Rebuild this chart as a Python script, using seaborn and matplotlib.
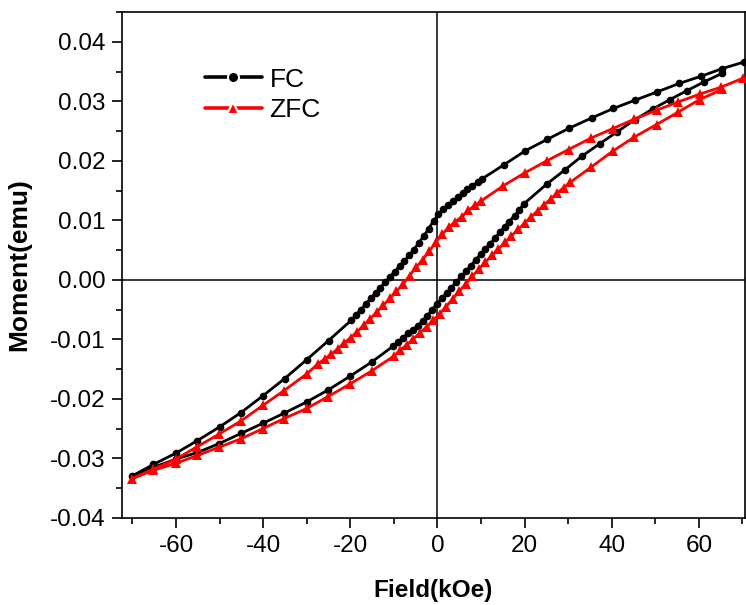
import matplotlib
matplotlib.use("Agg")
import matplotlib.pyplot as plt
import seaborn as sns
import pandas as pd
from matplotlib.ticker import MultipleLocator, FormatStrFormatter

# ---- data ----
fc_desc_field = [70.4, 65.4, 60.5, 55.5, 50.5, 45.4, 40.4, 35.4, 30.3, 25.2, 20.2, 15.2, 10.3,
                 9.2, 8.0, 6.9, 5.8, 4.7, 3.6, 2.5, 1.3, 0.2, -0.9, -2.0, -3.1, -4.3, -5.4, -6.5,
                 -7.6, -8.7, -9.8, -10.9, -12.0, -13.1, -14.2, -15.3, -16.4, -17.6, -18.7, -19.8,
                 -25.0, -30.0, -35.1, -40.1, -45.1, -50.0, -55.1, -60.0, -65.2, -70.2]
fc_desc_moment = [0.0366, 0.0355, 0.0342, 0.0330, 0.0316, 0.0302, 0.0288, 0.0272, 0.0255, 0.0236,
                  0.0217, 0.0193, 0.0170,
                  0.0164, 0.0158, 0.0152, 0.0146, 0.0139, 0.0133, 0.0126, 0.0119, 0.0110, 0.0099,
                  0.0086, 0.0074, 0.0062, 0.0051, 0.0041, 0.0032, 0.0023, 0.0014, 0.0005, -0.0004,
                  -0.0013, -0.0022, -0.0031, -0.0040, -0.0050, -0.0059, -0.0068,
                  -0.0102, -0.0134, -0.0166, -0.0195, -0.0223, -0.0247, -0.0270, -0.0291, -0.0310,
                  -0.0330]

fc_asc_field = [-65.2, -60.0, -55.1, -50.1, -45.1, -40.1, -35.2, -30.0, -25.1, -20.1, -15.1, -10.1,
                -9.0, -7.9, -6.8, -5.7, -4.5, -3.4, -2.3, -1.2, -0.1, 1.0, 2.1, 3.2, 4.3, 5.5, 6.6,
                7.7, 8.8, 9.9, 11.0, 12.1, 13.2, 14.3, 15.4, 16.5, 17.7, 18.8, 19.9,
                25.1, 29.3, 33.2, 37.3, 41.3, 45.3, 49.4, 53.4, 57.3, 61.3, 65.4]
fc_asc_moment = [-0.0315, -0.0301, -0.0290, -0.0275, -0.0258, -0.0241, -0.0224, -0.0205, -0.0185,
                 -0.0162, -0.0138, -0.0111,
                 -0.0104, -0.0097, -0.0090, -0.0084, -0.0077, -0.0069, -0.0060, -0.0050, -0.0040,
                 -0.0031, -0.0022, -0.0013, -0.0004, 0.0006, 0.0015, 0.0024, 0.0034, 0.0043, 0.0052,
                 0.0061, 0.0070, 0.0080, 0.0089, 0.0098, 0.0108, 0.0118, 0.0128,
                 0.0161, 0.0185, 0.0208, 0.0229, 0.0249, 0.0269, 0.0287, 0.0303, 0.0318, 0.0333,
                 0.0347]

zfc_desc_field = [70.2, 65.2, 60.2, 55.3, 50.3, 45.2, 40.2, 35.2, 30.1, 25.1, 20.1, 15.1, 10.1,
                  8.6, 7.1, 5.6, 4.1, 2.6, 1.1, -0.4, -1.9, -3.4, -4.9, -6.4, -7.9, -9.4, -10.9,
                  -12.4, -13.9, -15.4, -16.9, -18.4, -19.9, -21.4, -22.9, -24.4, -25.9, -27.4,
                  -30.0, -35.2, -40.1, -45.1, -50.1, -55.1, -60.0, -65.2, -70.2]
zfc_desc_moment = [0.0339, 0.0324, 0.0312, 0.0299, 0.0285, 0.0270, 0.0254, 0.0238, 0.0219, 0.0200,
                   0.0180, 0.0158, 0.0133,
                   0.0125, 0.0117, 0.0106, 0.0098, 0.0088, 0.0077, 0.0063, 0.0048, 0.0034, 0.0021,
                   0.0007, -0.0007, -0.0019, -0.0031, -0.0042, -0.0054, -0.0065, -0.0076, -0.0087,
                   -0.0097, -0.0106, -0.0116, -0.0125, -0.0133, -0.0141,
                   -0.0158, -0.0186, -0.0211, -0.0237, -0.0259, -0.0280, -0.0301, -0.0318, -0.0334]

zfc_asc_field = [-65.2, -60.0, -55.1, -50.1, -45.1, -40.1, -35.2, -30.0, -25.1, -20.1, -15.1, -10.0,
                 -8.5, -7.0, -5.5, -4.0, -2.5, -1.0, 0.5, 2.0, 3.5, 5.0, 6.5, 8.0, 9.5, 11.0, 12.5,
                 14.0, 15.5, 17.0, 18.5, 20.0, 21.5, 23.0, 24.5, 26.0, 27.5, 29.0, 30.5,
                 35.2, 40.2, 45.2, 50.3, 55.3, 60.2, 65.4]
zfc_asc_moment = [-0.0320, -0.0308, -0.0295, -0.0281, -0.0267, -0.0250, -0.0233, -0.0216, -0.0196,
                  -0.0175, -0.0153, -0.0128,
                  -0.0118, -0.0109, -0.0099, -0.0089, -0.0079, -0.0068, -0.0057, -0.0045, -0.0032,
                  -0.0019, -0.0007, 0.0006, 0.0018, 0.0030, 0.0041, 0.0052, 0.0063, 0.0074, 0.0085,
                  0.0095, 0.0106, 0.0116, 0.0126, 0.0136, 0.0146, 0.0155, 0.0164,
                  0.0189, 0.0216, 0.0240, 0.0261, 0.0282, 0.0303, 0.0320]

series_names = ["FC", "ZFC"]
x_label = "Field(kOe)"
y_label = "Moment(emu)"

# ---- styling ----
sns.set_style("ticks")
plt.rcParams["font.family"] = ["Liberation Sans", "DejaVu Sans"]
plt.rcParams["axes.unicode_minus"] = False
plt.rcParams["text.color"] = "black"
plt.rcParams["axes.labelcolor"] = "black"
plt.rcParams["xtick.color"] = "black"
plt.rcParams["ytick.color"] = "black"

fig = plt.figure(figsize=(7.46, 6.05), dpi=100)
ax = fig.add_axes([122 / 746, 1 - 518 / 605, 623 / 746, 506 / 605])

fc = pd.DataFrame({"field": fc_desc_field + fc_asc_field,
                   "moment": fc_desc_moment + fc_asc_moment})
zfc = pd.DataFrame({"field": zfc_desc_field + zfc_asc_field,
                    "moment": zfc_desc_moment + zfc_asc_moment})

sns.lineplot(data=fc, x="field", y="moment", sort=False, estimator=None, ax=ax,
             color="black", linewidth=2.0, marker="o", markersize=5.5,
             markeredgecolor="black", markeredgewidth=0, label=series_names[0], zorder=3)
sns.lineplot(data=zfc, x="field", y="moment", sort=False, estimator=None, ax=ax,
             color="#ff0000", linewidth=2.0, marker="^", markersize=6.5,
             markeredgecolor="#ff0000", markeredgewidth=0, label=series_names[1], zorder=3)

ax.axhline(0, color="black", linewidth=1.1, zorder=1)
ax.axvline(0, color="black", linewidth=1.1, zorder=1)

ax.set_xlim(-72.4, 70.6)
ax.set_ylim(-0.04, 0.045)
ax.xaxis.set_major_locator(MultipleLocator(20))
ax.xaxis.set_minor_locator(MultipleLocator(10))
ax.yaxis.set_major_locator(MultipleLocator(0.01))
ax.yaxis.set_minor_locator(MultipleLocator(0.005))
ax.yaxis.set_major_formatter(FormatStrFormatter("%.2f"))
ax.xaxis.set_major_formatter(FormatStrFormatter("%d"))

ax.tick_params(axis="both", which="major", direction="out", length=7, width=1.2,
               labelsize=17.5, color="black", labelcolor="black", pad=5)
ax.tick_params(axis="both", which="minor", direction="out", length=4, width=1.2, color="black")
ax.tick_params(top=False, right=False, which="both")

for s in ax.spines.values():
    s.set_linewidth(1.2)
    s.set_color("black")
    s.set_visible(True)

ax.set_xlabel(x_label, fontsize=17.5, fontweight="bold", labelpad=16, color="black")
ax.set_ylabel(y_label, fontsize=19, fontweight="bold", labelpad=13, color="black")

leg = ax.legend(loc="upper left", bbox_to_anchor=(0.133, 0.89), frameon=False,
                fontsize=19, handlelength=2.15, handletextpad=0.3, labelspacing=0.25,
                borderpad=0, borderaxespad=0, labelcolor="black")
for h in leg.get_lines():
    h.set_linewidth(2.6)
    h.set_markeredgecolor("white")
    h.set_markeredgewidth(1.5)
    h.set_markersize(8)

fig.savefig("out.png", dpi=100)
